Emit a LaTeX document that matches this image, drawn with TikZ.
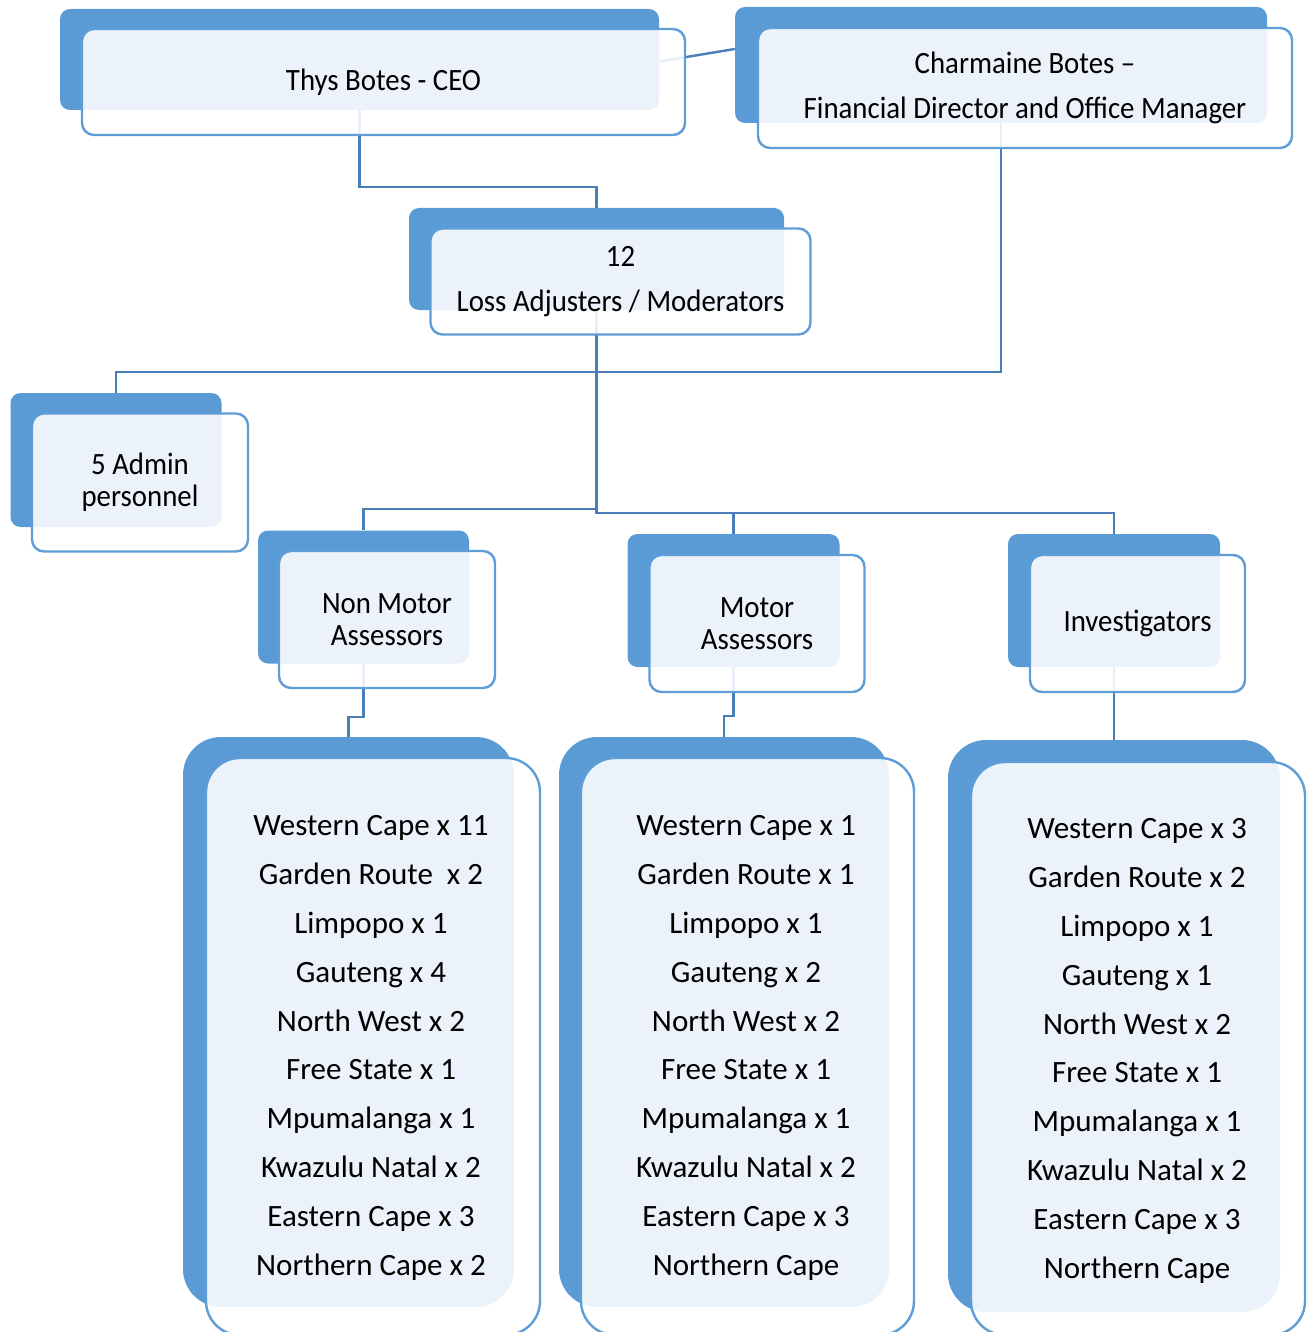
\documentclass[tikz,border=0pt]{standalone}
\usepackage{fontspec}
\setmainfont{Carlito}
\newfontfamily\condfont[FakeStretch=0.93]{Carlito}
\definecolor{backblue}{HTML}{5B9BD5}
\definecolor{frontblue}{HTML}{5F9DD6}
\definecolor{connblue}{HTML}{4A7EBB}
\pgfdeclarelayer{bg}
\pgfsetlayers{bg,main}
\begin{document}
\begin{tikzpicture}[x=1pt,y=-1pt,
  conn/.style={draw=connblue,line width=2.4pt},
  backbox/.style={fill=backblue,rounded corners=10pt,inner sep=0pt},
  frontbox/.style={fill=white,fill opacity=0.88,draw=frontblue,draw opacity=1,text opacity=1,
     line width=2.4pt,rounded corners=12pt,inner sep=0pt,align=center,text=black},
  backlist/.style={backbox,rounded corners=38pt},
  frontlist/.style={frontbox,rounded corners=34pt},
  boxtext/.style={font=\condfont\fontsize{31}{32}\selectfont},
  widetext/.style={font=\condfont\fontsize{31}{45}\selectfont},
  listtext/.style={align=center,inner sep=0pt,font=\fontsize{31}{48.8}\selectfont}]
\useasboundingbox (0,0) rectangle (1312,1332);

% CEO
\node[backbox,minimum width=599pt,minimum height=101pt] (ceoB) at (359.5,59.5) {};
\node[frontbox,boxtext,minimum width=603pt,minimum height=106pt] (ceoF) at (383.5,82) {Thys Botes - CEO};
% Charmaine
\node[backbox,minimum width=532pt,minimum height=116pt] (charB) at (1001,65) {};
\node[frontbox,widetext,minimum width=534pt,minimum height=120pt] (charF) at (1025,88) {Charmaine Botes –\\Financial Director and Office Manager};
% Loss adjusters
\node[backbox,minimum width=375pt,minimum height=102pt] (lossB) at (596.5,259) {};
\node[frontbox,widetext,minimum width=380pt,minimum height=106pt] (lossF) at (620.5,281.5) {12\\Loss Adjusters / Moderators};
% Admin
\node[backbox,minimum width=211pt,minimum height=134pt] (admB) at (116,460) {};
\node[frontbox,boxtext,minimum width=216pt,minimum height=138pt] (admF) at (140,482.5) {5 Admin\\personnel};
% Non motor
\node[backbox,minimum width=211pt,minimum height=133pt] (nmB) at (363.5,597) {};
\node[frontbox,boxtext,minimum width=216pt,minimum height=137pt] (nmF) at (387,619.5) {Non Motor\\Assessors};
% Motor
\node[backbox,minimum width=212pt,minimum height=133pt] (motB) at (733.5,600.5) {};
\node[frontbox,boxtext,minimum width=215pt,minimum height=137pt] (motF) at (757,623.5) {Motor\\Assessors};
% Investigators
\node[backbox,minimum width=212pt,minimum height=133pt] (invB) at (1114,600.5) {};
\node[frontbox,boxtext,minimum width=215pt,minimum height=137pt] (invF) at (1137.5,623.5) {Investigators};

% Lists
\node[backlist,minimum width=331pt,minimum height=570pt] (nmLB) at (348.5,1022) {};
\node[frontlist,minimum width=334pt,minimum height=577pt] (nmLF) at (373,1046.5) {};
\node[listtext] (nmLT) at (371,1048) {Western Cape x 11\\Garden Route~ x 2\\Limpopo x 1\\Gauteng x 4\\North West x 2\\Free State x 1\\Mpumalanga x 1\\Kwazulu Natal x 2\\Eastern Cape x 3\\Northern Cape x 2};

\node[backlist,minimum width=330pt,minimum height=570pt] (motLB) at (724,1022) {};
\node[frontlist,minimum width=333pt,minimum height=577pt] (motLF) at (747.5,1046.5) {};
\node[listtext] (motLT) at (746,1048) {Western Cape x 1\\Garden Route x 1\\Limpopo x 1\\Gauteng x 2\\North West x 2\\Free State x 1\\Mpumalanga x 1\\Kwazulu Natal x 2\\Eastern Cape x 3\\Northern Cape};

\node[backlist,minimum width=332pt,minimum height=572pt] (invLB) at (1114,1026) {};
\node[frontlist,minimum width=334pt,minimum height=573pt] (invLF) at (1138,1048.5) {};
\node[listtext] (invLT) at (1137,1051) {Western Cape x 3\\Garden Route x 2\\Limpopo x 1\\Gauteng x 1\\North West x 2\\Free State x 1\\Mpumalanga x 1\\Kwazulu Natal x 2\\Eastern Cape x 3\\Northern Cape};

\begin{pgfonlayer}{bg}
\draw[conn] ([yshift=-2pt]ceoB.east) -- ([yshift=16pt]charB.west);
\draw[conn] (ceoB.south) -- ++(0,77) -| (lossB.north);
\draw[conn] (charB.south) -- ++(0,249) -| (admB.north);
\draw[conn] (lossB.south) -- ++(0,199) -| (nmB.north);
\draw[conn] (lossB.south) -- ++(0,203) coordinate (jn) -| (invB.north);
\draw[conn] (jn) -| (motB.north);
\draw[conn] (nmB.south) -- ++(0,53) -| (nmLB.north);
\draw[conn] (motB.south) -- ++(0,49) -| (motLB.north);
\draw[conn] (invB.south) -- (invLB.north);
\end{pgfonlayer}
\end{tikzpicture}
\end{document}
